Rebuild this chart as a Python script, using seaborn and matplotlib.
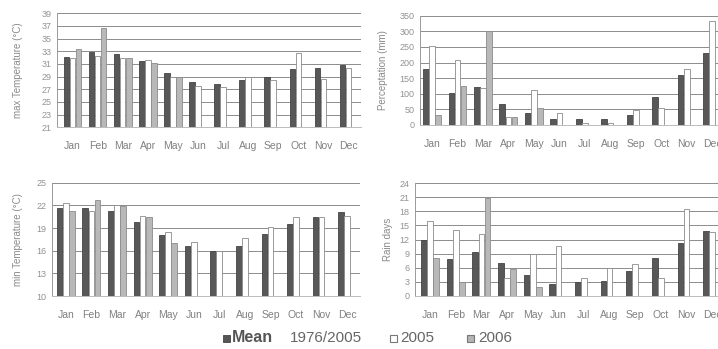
import numpy as np
import pandas as pd
import matplotlib
matplotlib.use("Agg")
import matplotlib.pyplot as plt
import seaborn as sns
from matplotlib.patches import Rectangle

months = ["Jan", "Feb", "Mar", "Apr", "May", "Jun", "Jul", "Aug", "Sep", "Oct", "Nov", "Dec"]
series = ["Mean 1976/2005", "2005", "2006"]

tmax_mean = [32.1, 32.9, 32.6, 31.4, 29.6, 28.2, 27.9, 28.4, 28.9, 30.2, 30.3, 30.8]
tmax_2005 = [32.0, 32.3, 32.0, 31.6, 29.0, 27.5, 27.3, 28.9, 28.5, 32.8, 28.6, 30.3]
tmax_2006 = [33.4, 36.6, 31.9, 31.1, 29.0, np.nan, np.nan, np.nan, np.nan, np.nan, np.nan, np.nan]

prec_mean = [179, 103, 122, 66, 37, 19, 19, 19, 32, 90, 161, 229]
prec_2005 = [253, 207, 117, 25, 111, 37, 8, 7, 48, 53, 180, 334]
prec_2006 = [31, 125, 301, 26, 55, np.nan, np.nan, np.nan, np.nan, np.nan, np.nan, np.nan]

tmin_mean = [21.6, 21.6, 21.3, 19.8, 18.1, 16.6, 16.0, 16.6, 18.2, 19.5, 20.5, 21.1]
tmin_2005 = [22.3, 21.2, 22.1, 20.6, 18.5, 17.1, 15.9, 17.7, 19.2, 20.5, 20.4, 20.6]
tmin_2006 = [21.2, 22.7, 21.9, 20.4, 17.0, np.nan, np.nan, np.nan, np.nan, np.nan, np.nan, np.nan]

rain_mean = [11.9, 7.8, 9.3, 7.0, 4.4, 2.4, 2.85, 3.1, 5.3, 8.0, 11.2, 13.9]
rain_2005 = [16.0, 14.0, 13.2, 3.8, 8.8, 10.7, 3.85, 6.0, 6.8, 3.7, 18.6, 13.7]
rain_2006 = [8.0, 2.85, 20.8, 5.8, 1.9, np.nan, np.nan, np.nan, np.nan, np.nan, np.nan, np.nan]

tmax_ticks = [21, 23, 25, 27, 29, 31, 33, 35, 37, 39]
prec_ticks = [0, 50, 100, 150, 200, 250, 300, 350]
tmin_ticks = [10, 13, 16, 19, 22, 25]
rain_ticks = [0, 3, 6, 9, 12, 15, 18, 21, 24]

def make_df(a, b, c):
    rows = []
    for vals, s in zip([a, b, c], series):
        for m, v in zip(months, vals):
            if not (isinstance(v, float) and np.isnan(v)):
                rows.append({"month": m, "series": s, "value": v})
    return pd.DataFrame(rows)

sns.set_theme(style="white")
plt.rcParams['font.family'] = ['Liberation Sans', 'DejaVu Sans']

W, H = 718, 349
fig = plt.figure(figsize=(W / 100, H / 100), dpi=100)

palette = {"Mean 1976/2005": "#585858", "2005": "#ffffff", "2006": "#b8b8b8"}
edges = {"Mean 1976/2005": "#444444", "2005": "#8a8a8a", "2006": "#8c8c8c"}

def ax_at(left, top, right, bottom):
    return fig.add_axes([left / W, 1 - bottom / H, (right - left) / W, (bottom - top) / H])

panels = [
    (ax_at(57, 13.3, 361, 127.3), make_df(tmax_mean, tmax_2005, tmax_2006), tmax_ticks,
     "max Temperature (°C)", 18, -0.62, 11.5),
    (ax_at(420, 15.7, 725, 125), make_df(prec_mean, prec_2005, prec_2006), prec_ticks,
     "Perceptation (mm)", 383, -0.47, 11.5),
    (ax_at(52, 182.7, 360, 296), make_df(tmin_mean, tmin_2005, tmin_2006), tmin_ticks,
     "min Temperature (°C)", 18, -0.54, 11.5),
    (ax_at(415, 183.3, 725, 295.7), make_df(rain_mean, rain_2005, rain_2006), rain_ticks,
     "Rain days", 388, -0.59, 11.5),
]

for ax, df, ticks, ylabel, lx, x0, x1 in panels:
    sns.barplot(data=df, x="month", y="value", hue="series", order=months,
                hue_order=series, palette=palette, width=0.72, gap=0.08,
                dodge=True, ax=ax, legend=False, errorbar=None, linewidth=0.6,
                edgecolor="#777777")
    for bar_group, s in zip(ax.containers, series):
        for b in bar_group:
            b.set_edgecolor(edges[s])
    ax.set_ylim(ticks[0], ticks[-1])
    ax.set_yticks(ticks)
    ax.set_yticklabels([str(t) for t in ticks], fontsize=6.5, color="#929292")
    ax.set_xlim(x0, x1)
    ax.set_xticks(range(12))
    ax.set_xticklabels(months, fontsize=7.5, color="#808080")
    ax.tick_params(axis="x", length=0, pad=10)
    ax.tick_params(axis="y", length=2, width=0.6, color="#999999", pad=2)
    ax.set_xlabel("")
    ax.set_ylabel("")
    for t in ticks:
        ax.axhline(t, color="#8c8c8c", lw=0.7, zorder=0)
    for sp in ["top", "right"]:
        ax.spines[sp].set_visible(False)
    ax.spines["left"].set_color("#9a9a9a")
    ax.spines["left"].set_linewidth(0.7)
    ax.spines["bottom"].set_color("#bbbbbb")
    ax.spines["bottom"].set_linewidth(0.7)
    pos = ax.get_position()
    cy = (pos.y0 + pos.y1) / 2
    fig.text(lx / W, cy, ylabel, rotation=90, ha="center", va="center",
             fontsize=7, color="#8a8a8a")

# legend
ly = 1 - 338 / H
sq = 7
fig.patches.append(Rectangle((222.7 / W, 1 - 341.5 / H), sq / W, sq / H,
                             transform=fig.transFigure, facecolor="#555555",
                             edgecolor="#444444", lw=0.6))
fig.text(232 / W, ly, "Mean", fontsize=11.5, fontweight="bold", color="#555555", va="center")
fig.text(290 / W, ly, "1976/2005", fontsize=11, color="#666666", va="center")
fig.patches.append(Rectangle((390 / W, 1 - 341.5 / H), sq / W, sq / H,
                             transform=fig.transFigure, facecolor="#ffffff",
                             edgecolor="#777777", lw=0.8))
fig.text(400 / W, ly, "2005", fontsize=11, color="#666666", va="center")
fig.patches.append(Rectangle((467 / W, 1 - 341.5 / H), sq / W, sq / H,
                             transform=fig.transFigure, facecolor="#b5b5b5",
                             edgecolor="#777777", lw=0.8))
fig.text(478 / W, ly, "2006", fontsize=11, color="#666666", va="center")

fig.savefig("out.png", dpi=100)
